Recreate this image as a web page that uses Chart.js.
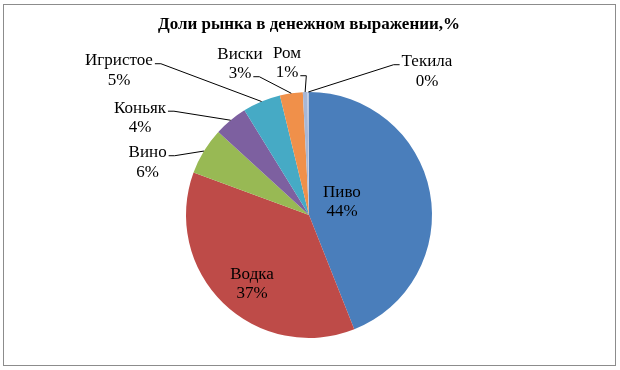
<!DOCTYPE html>
<html>
<head>
<meta charset="utf-8">
<script src="https://cdn.jsdelivr.net/npm/chart.js@4"></script>
<style>
  html, body { margin: 0; padding: 0; background: #fff; }
  #wrap { position: relative; width: 620px; height: 370px; }
  #frame { position: absolute; left: 3px; top: 4px; width: 613px; height: 362px; border: 1px solid #8c8c8c; box-sizing: border-box; pointer-events: none; }
  canvas { position: absolute; left: 0; top: 0; }
</style>
</head>
<body>
<div id="wrap">
  <canvas id="c" width="620" height="370"></canvas>
  <div id="frame"></div>
</div>
<script>
// ---- data ----
const title = 'Доли рынка в денежном выражении,%';
const categories = ['Пиво', 'Водка', 'Вино', 'Коньяк', 'Игристое', 'Виски', 'Ром', 'Текила'];
const shares = [44.0, 36.6, 6.2, 4.4, 5.0, 3.0, 0.6, 0.2];
const colors = ['#4A7EBB', '#BE4B48', '#98B954', '#7D60A0', '#46AAC5', '#F0904A', '#A7B7D6', '#B9C6DF'];

// ---- label layout (relative to pie centre, in units of the radius) ----
// side: which text edge the leader leaves from; line: which text line it attaches to
const labelLayout = [
  { dx: 0.268, dy: -0.106, leader: false },
  { dx: -0.463, dy: 0.561, leader: false },
  { dx: -1.312, dy: -0.427, leader: true, side: 'right', line: 0 },
  { dx: -1.374, dy: -0.789, leader: true, side: 'right', line: 0 },
  { dx: -1.545, dy: -1.175, leader: true, side: 'right', line: 0 },
  { dx: -0.561, dy: -1.228, leader: true, side: 'right', line: 1 },
  { dx: -0.179, dy: -1.236, leader: true, side: 'right', line: 1 },
  { dx: 0.959, dy: -1.167, leader: true, side: 'left', line: 0 }
];

const labelFont = '17px "Liberation Serif", "Times New Roman", serif';
const lineH = 19.5;

const labelPlugin = {
  id: 'pieLabels',
  afterDatasetsDraw(chart) {
    const ctx = chart.ctx;
    const meta = chart.getDatasetMeta(0);
    ctx.save();
    // title
    ctx.font = 'bold 17px "Liberation Serif", "Times New Roman", serif';
    ctx.fillStyle = '#000';
    ctx.textAlign = 'center';
    ctx.textBaseline = 'middle';
    ctx.fillText(title, 309, 25);

    ctx.font = labelFont;
    meta.data.forEach((arc, i) => {
      const p = arc.getProps(['x', 'y', 'startAngle', 'endAngle', 'outerRadius'], true);
      const R = p.outerRadius;
      const L = labelLayout[i];
      const cx = p.x + L.dx * R;
      const cy = p.y + L.dy * R;
      const lines = [categories[i], Math.round(shares[i]) + '%'];
      const ys = [cy - lineH / 2, cy + lineH / 2];
      ctx.fillStyle = '#000';
      ctx.textAlign = 'center';
      ctx.textBaseline = 'middle';
      lines.forEach((t, k) => ctx.fillText(t, cx, ys[k]));
      if (L.leader) {
        const mid = (p.startAngle + p.endAngle) / 2;
        const ex = p.x + Math.cos(mid) * R;
        const ey = p.y + Math.sin(mid) * R;
        const w = ctx.measureText(lines[L.line]).width;
        const sy = ys[L.line] + 3;
        let sx, kx;
        if (L.side === 'right') { sx = cx + w / 2 + 2; kx = sx + 6; }
        else { sx = cx - w / 2 - 2; kx = sx - 6; }
        ctx.beginPath();
        ctx.moveTo(sx, sy);
        ctx.lineTo(kx, sy);
        ctx.lineTo(ex, ey);
        ctx.strokeStyle = '#000';
        ctx.lineWidth = 1;
        ctx.stroke();
      }
    });
    ctx.restore();
  }
};

new Chart(document.getElementById('c'), {
  type: 'pie',
  data: {
    labels: categories,
    datasets: [{
      data: shares,
      backgroundColor: colors,
      borderWidth: 0
    }]
  },
  options: {
    responsive: false,
    animation: false,
    layout: { padding: { top: 92, bottom: 32, left: 100, right: 102 } },
    plugins: {
      legend: { display: false },
      title: { display: false },
      tooltip: { enabled: false }
    }
  },
  plugins: [labelPlugin]
});
</script>
</body>
</html>
